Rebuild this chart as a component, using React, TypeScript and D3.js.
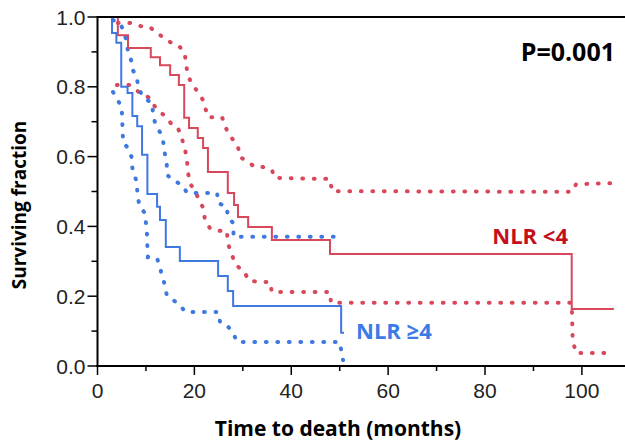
import React from "react";
import * as d3 from "d3";

// Kaplan-Meier estimates: [months, surviving fraction]
const lowNlrCurve: [number, number][] = [
  [0, 1], [4.2, 0.948], [6.3, 0.911], [11.0, 0.885], [12.9, 0.862], [15.0, 0.834],
  [16.8, 0.805], [17.9, 0.711], [18.9, 0.682], [20.7, 0.653], [21.8, 0.625],
  [22.8, 0.556], [26.9, 0.496], [28.2, 0.461], [29.0, 0.427], [31.1, 0.398],
  [36.0, 0.361], [48.0, 0.321], [97.9, 0.163], [106.6, 0.163],
];
const lowNlrUpper: [number, number][] = [
  [4.2, 0.983], [6.7, 0.983], [8.8, 0.974], [10.8, 0.971], [12.3, 0.954], [15.0, 0.928],
  [16.6, 0.92], [17.9, 0.9], [18.3, 0.871], [18.5, 0.842], [19.1, 0.819], [20.1, 0.797],
  [21.8, 0.762], [22.8, 0.713], [25.7, 0.713], [26.9, 0.668], [28.0, 0.648], [29.0, 0.628],
  [29.4, 0.599], [31.1, 0.585], [32.5, 0.57], [34.2, 0.57], [36.0, 0.562], [36.6, 0.539],
  [48.0, 0.536], [48.4, 0.501], [97.9, 0.499], [98.8, 0.521], [106.6, 0.524],
];
const lowNlrLower: [number, number][] = [
  [4.0, 0.805], [6.7, 0.805], [8.8, 0.782], [10.8, 0.768], [11.9, 0.742], [14.3, 0.711],
  [15.4, 0.691], [16.6, 0.682], [17.4, 0.653], [18.1, 0.619], [18.5, 0.585], [18.7, 0.553],
  [19.1, 0.524], [20.5, 0.49], [21.2, 0.47], [21.8, 0.453], [22.2, 0.418], [23.2, 0.395],
  [24.7, 0.387], [26.7, 0.388], [26.9, 0.355], [27.4, 0.33], [28.0, 0.309], [28.8, 0.287],
  [30.4, 0.269], [31.1, 0.246], [33.1, 0.241], [35.6, 0.241], [36.0, 0.212], [48.0, 0.212],
  [48.2, 0.181], [97.9, 0.181], [98.1, 0.074], [98.8, 0.037], [106.6, 0.037],
];

const highNlrCurve: [number, number][] = [
  [0, 1], [3.0, 0.954], [3.9, 0.926], [4.9, 0.8], [6.2, 0.782], [7.2, 0.716],
  [8.2, 0.687], [9.2, 0.605], [10.3, 0.493], [12.3, 0.456], [12.9, 0.418],
  [14.1, 0.341], [17.0, 0.301], [24.9, 0.258], [26.9, 0.215], [28.0, 0.172],
  [50.3, 0.095], [50.9, 0.095],
];
const highNlrUpper: [number, number][] = [
  [3.2, 0.991], [4.6, 0.983], [5.3, 0.963], [6.1, 0.926], [6.3, 0.897], [7.1, 0.871],
  [7.3, 0.848], [8.15, 0.825], [8.4, 0.797], [9.4, 0.771], [10.2, 0.762], [11.25, 0.754],
  [11.5, 0.719], [11.9, 0.696], [12.9, 0.67], [13.5, 0.648], [13.9, 0.61], [14.3, 0.576],
  [14.4, 0.547], [15.6, 0.533], [17.4, 0.519], [18.5, 0.496], [24.7, 0.496], [24.9, 0.467],
  [26.7, 0.456], [26.9, 0.427], [28.0, 0.41], [28.1, 0.37], [50.0, 0.37], [50.7, 0.361],
];
const highNlrLower: [number, number][] = [
  [3.2, 0.785], [5.0, 0.742], [5.1, 0.705], [5.2, 0.668], [5.3, 0.639], [6.3, 0.625],
  [7.1, 0.596], [7.2, 0.567], [8.15, 0.524], [8.25, 0.484], [8.8, 0.456], [9.8, 0.438],
  [10.2, 0.381], [10.3, 0.341], [10.4, 0.312], [12.3, 0.309], [12.9, 0.281], [13.9, 0.232],
  [14.3, 0.203], [15.6, 0.189], [17.0, 0.175], [18.1, 0.155], [24.9, 0.155], [25.3, 0.126],
  [26.7, 0.117], [28.0, 0.095], [28.8, 0.069], [50.0, 0.069], [50.3, 0.046], [50.7, 0.017],
];

const xTicks = [0, 20, 40, 60, 80, 100];
const xMinorTicks = [10, 30, 50, 70, 90];
const yTicks = [0, 0.2, 0.4, 0.6, 0.8, 1.0];
const yMinorTicks = [0.1, 0.3, 0.5, 0.7, 0.9];

const RED = "#d9475a";
const BLUE = "#3f79e0";

export default function App() {
  const width = 625;
  const height = 442;
  const x = d3.scaleLinear().domain([0, 108.9]).range([97.5, 625]);
  const y = d3.scaleLinear().domain([0, 1]).range([366, 17]);

  const step = d3.line<[number, number]>().x((d) => x(d[0])).y((d) => y(d[1])).curve(d3.curveStepAfter);
  const band = d3.line<[number, number]>().x((d) => x(d[0])).y((d) => y(d[1]));

  const dotted = { fill: "none", strokeWidth: 4, strokeLinecap: "round" as const, strokeDasharray: "0.8 10.7" };
  const tickFont = { fontFamily: "Liberation Sans, Arial, sans-serif", fontSize: 21, fill: "#222" };

  return (
    <svg width={width} height={height} style={{ position: "absolute", left: 0, top: 0, background: "#fff" }}>
      {/* confidence bands */}
      <path d={band(lowNlrUpper) || ""} stroke={RED} {...dotted} />
      <path d={band(lowNlrLower) || ""} stroke={RED} {...dotted} />
      <path d={band(highNlrUpper) || ""} stroke={BLUE} {...dotted} />
      <path d={band(highNlrLower) || ""} stroke={BLUE} {...dotted} />
      {/* survival curves */}
      <path d={step(lowNlrCurve) || ""} stroke={RED} strokeWidth={2} fill="none" />
      <path d={step(highNlrCurve) || ""} stroke={BLUE} strokeWidth={2} fill="none" />

      {/* frame */}
      <line x1={x(0)} x2={width} y1={y(1)} y2={y(1)} stroke="#000" strokeWidth={2} />
      <line x1={x(0)} x2={x(0)} y1={y(1) - 1} y2={y(0) + 1} stroke="#000" strokeWidth={2} />
      <line x1={x(0) - 1} x2={width} y1={y(0)} y2={y(0)} stroke="#000" strokeWidth={2} />

      {/* x axis */}
      {xTicks.map((t) => (
        <g key={"x" + t}>
          <line x1={x(t)} x2={x(t)} y1={y(0)} y2={y(0) + 9} stroke="#000" strokeWidth={1.5} />
          <text x={x(t)} y={y(0) + 32} textAnchor="middle" {...tickFont}>{t}</text>
        </g>
      ))}
      {xMinorTicks.map((t) => (
        <line key={"xm" + t} x1={x(t)} x2={x(t)} y1={y(0)} y2={y(0) + 5} stroke="#000" strokeWidth={1.5} />
      ))}

      {/* y axis */}
      {yTicks.map((t) => (
        <g key={"y" + t}>
          <line x1={x(0) - 10} x2={x(0)} y1={y(t)} y2={y(t)} stroke="#000" strokeWidth={1.5} />
          <text x={x(0) - 12} y={y(t) + 7.5} textAnchor="end" {...tickFont}>{t.toFixed(1)}</text>
        </g>
      ))}
      {yMinorTicks.map((t) => (
        <line key={"ym" + t} x1={x(0) - 6} x2={x(0)} y1={y(t)} y2={y(t)} stroke="#000" strokeWidth={1.5} />
      ))}

      {/* titles */}
      <text x={338} y={436} textAnchor="middle" fontFamily="Open Sans, sans-serif" fontWeight={700} fontSize={21} fill="#000">
        Time to death (months)
      </text>
      <text transform="translate(26,205) rotate(-90)" textAnchor="middle" fontFamily="Open Sans, sans-serif" fontWeight={700} fontSize={19} fill="#000">
        Surviving fraction
      </text>

      <text x={615} y={61} textAnchor="end" fontFamily="Open Sans, sans-serif" fontWeight={700} fontSize={25} fill="#000">
        P=0.001
      </text>
      <text x={568} y={244} textAnchor="end" fontFamily="Open Sans, sans-serif" fontWeight={700} fontSize={22} fill="#c4101c">
        NLR &lt;4
      </text>
      <text x={356} y={339} fontFamily="Open Sans, sans-serif" fontWeight={700} fontSize={22} fill="#3a7be8">
        NLR ≥4
      </text>
    </svg>
  );
}
